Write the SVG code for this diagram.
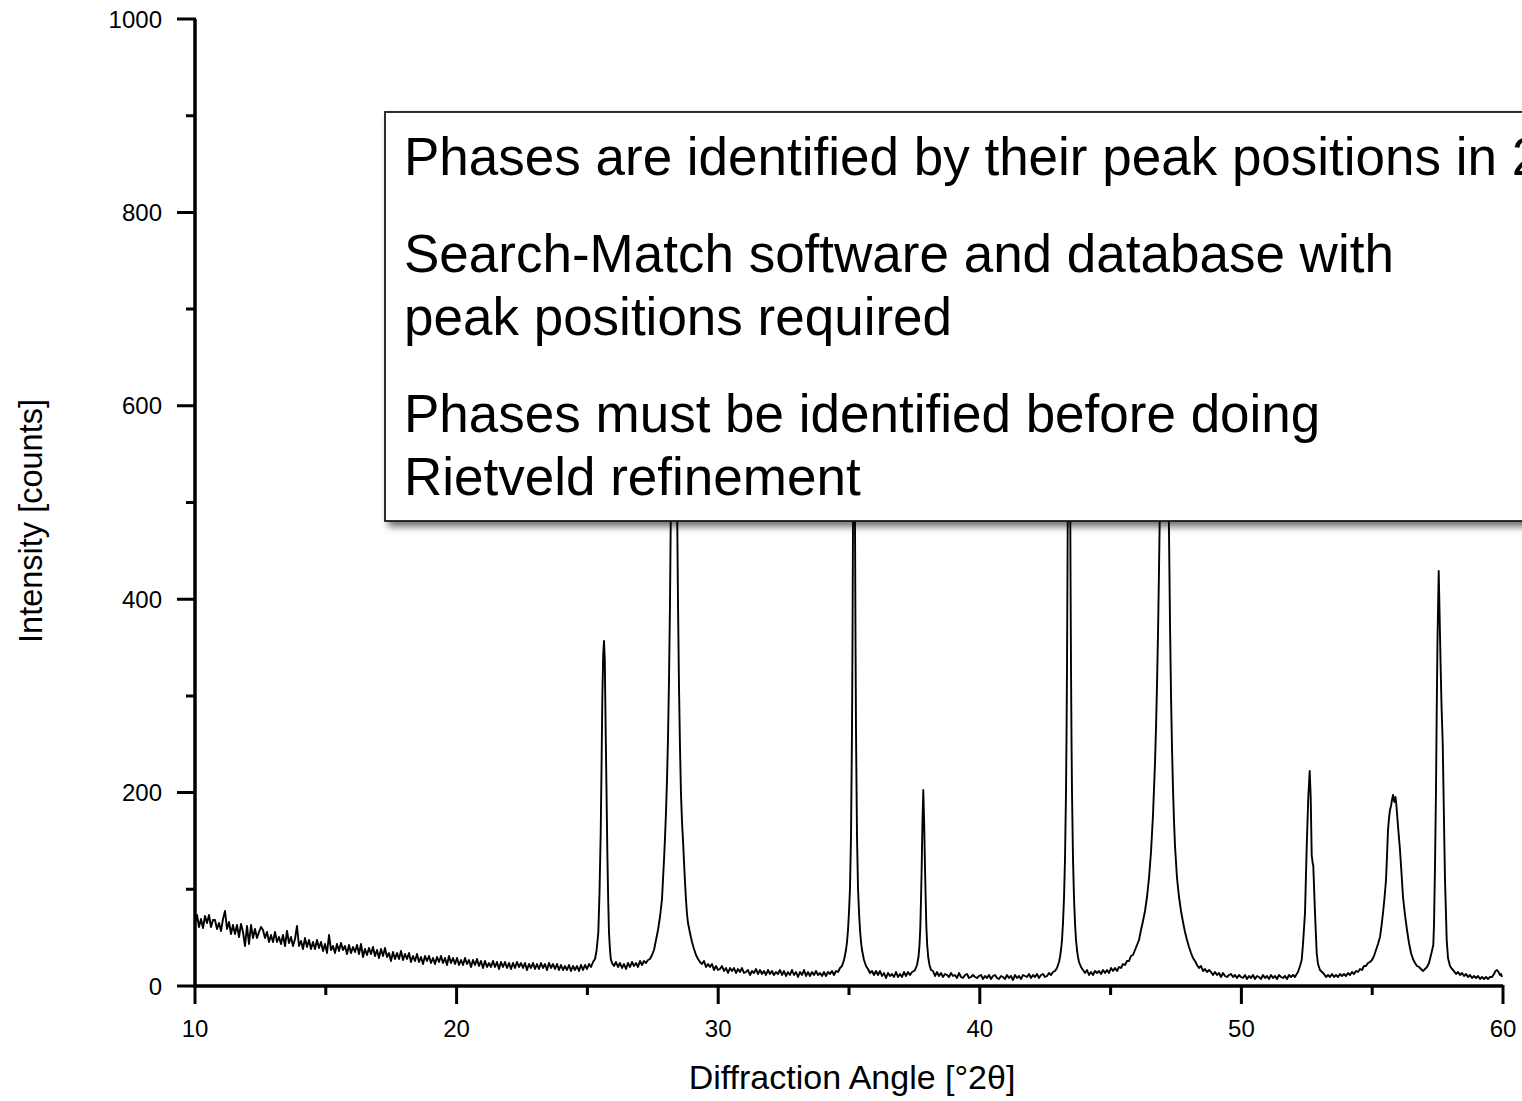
<svg xmlns="http://www.w3.org/2000/svg" width="1522" height="1101" viewBox="0 0 1522 1101">
<defs>
<style>
.t{font-family:"Liberation Sans",Arial,sans-serif;fill:#000}
.tick{font-size:24px}
.ttl{font-size:34px}
.note{font-size:53px}
.ax{stroke:#000;stroke-width:3.5;fill:none;stroke-linejoin:miter}
.tk{stroke:#000;stroke-width:3;fill:none}
.data{stroke:#000;stroke-width:1.9;fill:none;stroke-linejoin:round}
.box{fill:#fff;stroke:#1a1a1a;stroke-width:1.8}
</style>
<filter id="sh" filterUnits="userSpaceOnUse" x="360" y="90" width="1300" height="470">
<feDropShadow dx="4" dy="5" stdDeviation="3.5" flood-color="#000" flood-opacity="0.55"/>
</filter>
</defs>
<rect width="1522" height="1101" fill="#fff"/>
<g id="pattern-curve">
<path class="data" d="M195,923 L197,915 199,927 201,919 203,928 205,916 207,923 209,915 211,927 213,920 215,920 217,929 219,923 221,931 223,919 225,911 227,929 229,922 231,934 233,925 235,934 237,925 239,937 241,924 243,932 245,946 247,926 249,944 251,925 253,938 255,929 257,938 259,932 261,927 263,930 265,938 267,932 269,942 271,935 273,942 275,932 277,942 279,937 281,944 283,935 285,946 287,931 289,943 291,937 293,946 295,939 297,926 299,946 301,941 303,949 305,938 307,947 309,940 311,949 313,942 315,949 317,940 319,948 321,942 323,951 325,944 327,953 329,935 331,950 333,946 335,953 337,944 339,951 341,943 343,950 345,946 347,954 349,945 351,953 353,947 355,952 357,945 359,954 361,944 363,957 365,949 367,955 369,948 371,954 373,947 375,956 377,950 379,958 381,949 383,956 385,948 387,957 389,953 391,961 393,952 395,959 397,953 399,959 401,951 403,960 405,954 407,959 409,953 411,962 413,956 415,961 417,954 419,962 421,957 423,964 425,956 427,961 429,956 431,963 433,958 435,964 437,957 439,962 441,956 443,963 445,958 447,965 449,956 451,963 453,958 455,964 457,958 459,965 461,960 463,965 465,958 467,964 469,960 471,967 473,960 475,965 477,959 479,966 481,961 483,968 485,961 487,967 489,963 491,967 493,961 495,967 497,962 499,969 501,962 503,967 505,962 507,968 509,963 511,969 513,963 515,968 517,962 519,967 521,963 523,968 525,963 527,970 529,964 531,968 533,963 535,969 537,964 539,969 541,963 543,968 545,964 547,970 549,963 551,968 553,964 555,969 557,964 559,970 561,965 563,970 565,966 567,970 569,965 571,971 573,966 575,970 577,966 579,971 581,965 583,970 585,965 587,969 589,964 591,967 593,962 595,959 596.5,951 598.3,933 599.5,893 600.7,833 601.5,770 602.3,700 603.2,655 604,641 604.8,660 605.7,733 606.5,790 607.3,850 608.2,900 609,933 610,950 610.8,959 612,963 614,966 616,962 618,967 620,963 622,968 624,964 626,969 628,963 630,967 632,962 634,966 636,963 638,967 640,961 642,965 644,961 646,963 648,960 650,959 652,955 654,950 656,940 658,930 660,917 662,899 664,860 665,838 666,812 667,780 668,738 669,680 670,603 671,493 672,364 673,246 674,196 675,246 676,364 677,493 678,603 679,687 680,748 681,794 682,822 683,840 684,862 685,882 686,900 687,914 688,923 690,933 692,942 694,949 696,955 698,959 700,962 702,964 704,961 706,967 708,964 710,967 712,964 714,970 716,966 718,970 720,969 722,966 724,971 726,968 728,973 730,968 732,971 734,968 736,973 738,969 740,972 742,968 744,973 746,972 748,970 750,975 752,971 754,973 756,969 758,974 760,970 762,974 764,971 766,975 768,970 770,974 772,971 774,975 776,972 778,974 780,970 782,975 784,971 786,976 788,972 790,975 792,970 794,975 796,972 798,977 800,972 802,975 804,970 806,976 808,972 810,976 812,972 814,975 816,971 818,975 820,973 822,976 824,972 826,976 828,972 830,974 832,971 834,975 836,971 838,972 840,968 842,966 844,960 846,950 847,942 848,930 849,912 850,888 851,836 852,730 852.5,640 853,523 853.5,402 854,346 854.5,402 855,523 855.5,640 856,730 857,836 858,888 859,912 860,930 861,942 862,950 864,960 866,966 868,969 870,973 872,971 874,975 876,971 878,975 880,971 882,976 884,973 886,978 888,973 890,976 892,974 894,977 896,972 898,977 900,974 902,977 904,972 906,976 908,972 910,975 912,972 914,971 915,970 917,965 918.5,957 919.5,945 920.3,928 921,900 921.7,867 922.4,825 923.3,790 924.2,825 925,867 925.7,900 926.4,928 927.2,945 928.2,957 929.5,965 931,970 933,971 935,976 937,972 939,976 941,973 943,977 945,974 947,975 949,977 951,973 953,976 955,975 957,978 959,973 961,977 963,978 965,975 967,974 969,978 971,977 973,975 975,977 977,978 979,976 981,975 983,979 985,976 987,978 989,975 991,979 993,976 995,975 997,978 999,979 1001,976 1003,977 1005,979 1007,975 1009,978 1011,976 1013,980 1015,975 1017,978 1019,976 1021,979 1023,975 1025,976 1027,977 1029,974 1031,978 1033,975 1035,977 1037,974 1039,978 1041,975 1043,974 1045,977 1047,976 1049,973 1051,975 1053,972 1055,971 1057,968 1059,962 1060,957 1061,950 1062,940 1063,923 1064,898 1065,859 1066,792 1066.5,739 1067,666 1067.5,570 1068,453 1068.5,346 1069,299 1069.5,346 1070,453 1070.5,570 1071,666 1071.5,739 1072,792 1073,859 1074,898 1075,923 1076,940 1077,950 1078,957 1079,962 1081,967 1083,970 1085,973 1087,970 1089,975 1091,972 1093,975 1095,971 1097,973 1099,971 1101,974 1103,970 1105,973 1107,970 1109,973 1111,968 1113,971 1115,968 1117,971 1119,967 1121,968 1123,964 1125,965 1127,961 1129,961 1131,956 1133,955 1135,950 1137,945 1139,940 1141,930 1143,921 1145,911 1147,897 1149,878 1151,852 1153,815 1155,763 1156,728 1157,685 1158,634 1159,571 1160,498 1161,415 1162,328 1163,246 1164,187 1165,165 1166,205 1167,304 1168,423 1169,533 1170,623 1171,694 1172,748 1173,789 1174,821 1175,846 1177,878 1179,897 1181,911 1183,922 1185,932 1187,940 1189,947 1191,953 1193,958 1195,961 1197,965 1199,968 1201,966 1203,971 1205,969 1207,972 1209,970 1211,972 1213,975 1215,972 1217,975 1219,973 1221,977 1223,973 1225,976 1227,977 1229,975 1231,974 1233,977 1235,975 1237,978 1239,975 1241,977 1243,978 1245,975 1247,979 1249,976 1251,978 1253,975 1255,979 1257,976 1259,977 1261,979 1263,975 1265,978 1267,976 1269,979 1271,975 1273,978 1275,976 1277,979 1279,975 1281,977 1283,978 1285,976 1287,979 1289,975 1291,977 1293,975 1295,977 1296,975 1298,972 1300,966 1301.7,960 1303,944 1305,913 1306.7,847 1308.3,797 1309.7,771 1310.7,797 1311.7,855 1312.5,862 1313.3,866 1315,913 1316.7,953 1318,964 1320,970 1322,972 1324,974 1326,977 1328,975 1330,977 1332,974 1334,977 1336,975 1338,977 1340,974 1342,976 1344,974 1346,976 1348,973 1350,975 1352,972 1354,974 1356,971 1358,972 1360,969 1362,970 1364,966 1366,966 1368,963 1370,962 1372,960 1374,956 1376,950 1378,944 1380,937 1381.5,926 1383,913 1384.5,898 1386,880 1387,856 1388,830 1389,818 1390,810 1391,806 1392,800 1393,795 1393.8,800 1394.5,802 1395.5,797 1396.2,803 1397,813 1398,826 1399,838 1400,850 1401.5,873 1403,897 1405,915 1407,930 1409,943 1411,953 1413,959 1415,963 1417,966 1419,967 1421,969 1423,971 1425,969 1427,967 1429,963 1431,955 1433.3,945 1434,925 1435,866 1436,790 1436.7,713 1437.5,640 1438.7,571 1439.5,610 1440.5,660 1441.5,705 1442.7,743 1443.5,790 1444.3,840 1445,880 1446,915 1446.7,940 1448,958 1450,966 1452,969 1454,971 1456,974 1458,972 1460,975 1462,973 1464,976 1466,974 1468,977 1470,975 1472,978 1474,976 1476,978 1478,976 1480,979 1482,977 1484,979 1486,977 1488,979 1490,977 1492,977 1494,974 1495.5,971 1497,970 1498.5,972 1500,975 1501,974 1502,977"/>
</g>
<g id="axes">
<path class="ax" d="M195,19V986H1503"/>
<path class="tk" d="M177,19H196 M177,212.4H196 M177,405.8H196 M177,599.2H196 M177,792.6H196 M177,986H196 M186,115.7H196 M186,309.1H196 M186,502.5H196 M186,695.9H196 M186,889.3H196 M195,985V1004 M456.6,985V1004 M718.2,985V1004 M979.8,985V1004 M1241.4,985V1004 M1503,985V1004 M325.8,985V995 M587.4,985V995 M849,985V995 M1110.6,985V995 M1372.2,985V995"/>
</g>
<g id="y-tick-labels" class="t tick" text-anchor="end">
<text x="162" y="27.5">1000</text>
<text x="162" y="221">800</text>
<text x="162" y="414.3">600</text>
<text x="162" y="607.7">400</text>
<text x="162" y="801">200</text>
<text x="162" y="994.5">0</text>
</g>
<g id="x-tick-labels" class="t tick" text-anchor="middle">
<text x="195" y="1037">10</text>
<text x="456.6" y="1037">20</text>
<text x="718.2" y="1037">30</text>
<text x="979.8" y="1037">40</text>
<text x="1241.4" y="1037">50</text>
<text x="1503" y="1037">60</text>
</g>
<g id="axis-titles" class="t ttl" text-anchor="middle">
<text x="852" y="1089">Diffraction Angle [°2θ]</text>
<text transform="translate(42,521) rotate(-90)" style="font-size:32.5px">Intensity [counts]</text>
</g>
<g id="callout">
<rect class="box" x="385" y="112" width="1220" height="409" filter="url(#sh)"/>
<g class="t note">
<text x="404" y="175">Phases are identified by their peak positions in 2</text>
<text x="404" y="272">Search-Match software and database with</text>
<text x="404" y="335">peak positions required</text>
<text x="404" y="432">Phases must be identified before doing</text>
<text x="404" y="495">Rietveld refinement</text>
</g>
</g>
</svg>
